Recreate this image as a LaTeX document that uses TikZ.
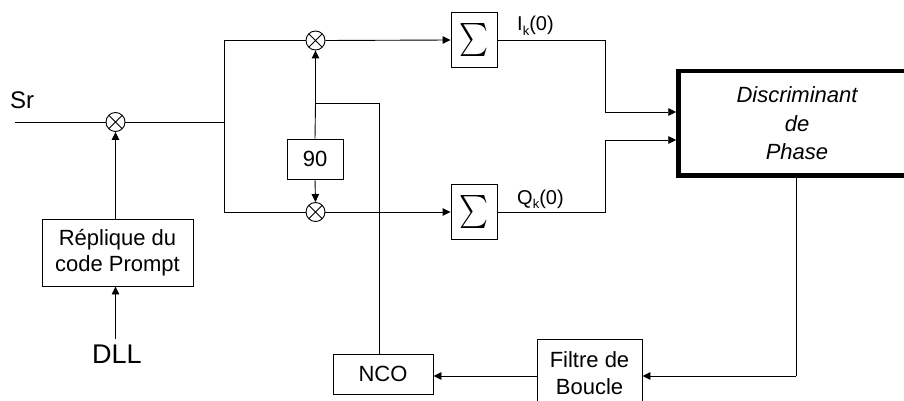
\documentclass[tikz,border=0pt]{standalone}
\usepackage{fontspec}
\usepackage{graphicx}
\setmainfont{Liberation Sans}
\usetikzlibrary{arrows.meta}
\begin{document}
\begin{tikzpicture}[x=1pt,y=-1pt,
  ln/.style={line width=0.9pt},
  arr/.style={ln,-{Triangle[length=8pt,width=7.5pt]}},
  box/.style={draw,line width=0.9pt,inner sep=0pt,align=center},
  mixer/.style={draw,circle,line width=0.9pt,minimum size=19pt,inner sep=0pt,
    path picture={\draw[line width=0.9pt] (path picture bounding box.north west) -- (path picture bounding box.south east)
      (path picture bounding box.south west) -- (path picture bounding box.north east);}},
  txt/.style={inner sep=0pt},
  f22/.style={font=\fontsize{22}{26}\selectfont}
]
\useasboundingbox (0,0) rectangle (904,401);

% nodes
\node[txt,anchor=base west,font=\fontsize{24}{24}\selectfont] (sr) at (10,109) {Sr};
\coordinate (srin) at (15,122);
\node[mixer] (m1) at (115.5,122) {};
\node[box,f22,minimum width=151pt,minimum height=67pt] (repl) at (117.5,252.5) {Réplique du\\code Prompt};
\node[txt,anchor=base,font=\fontsize{27}{27}\selectfont] (dll) at (117,363) {DLL};
\coordinate (dlltop) at (115.5,339);

\coordinate (sp) at (224,122);
\coordinate (spt) at (224,40.5);
\coordinate (spb) at (224,212);
\node[mixer] (m2) at (315.5,40.5) {};
\node[mixer] (m3) at (315.5,212) {};
\node[box,f22,minimum width=56pt,minimum height=40pt] (ninety) at (315,159) {90};
\coordinate (c1) at (379,103);
\coordinate (c2) at (315.5,103);

\node[box,minimum width=46pt,minimum height=55pt] (sum1) at (474,40) {\resizebox*{29pt}{33pt}{$\sum$}};
\node[box,minimum width=46pt,minimum height=55pt] (sum2) at (474,212) {\resizebox*{29pt}{33pt}{$\sum$}};
\node[txt,anchor=base west,font=\fontsize{20}{20}\selectfont] (ik) at (517,31) {I\raisebox{-4.5pt}{\fontsize{13}{13}\selectfont k}(0)};
\node[txt,anchor=base west,font=\fontsize{20}{20}\selectfont] (qk) at (517,204) {Q\raisebox{-4.5pt}{\fontsize{13}{13}\selectfont k}(0)};
\coordinate (i1) at (605,112);
\coordinate (q1) at (605,140);

\node[draw,line width=4.5pt,inner sep=0pt,minimum width=237pt,minimum height=104.5pt,align=center,
  font=\fontsize{22}{28.5}\selectfont\itshape] (disc) at (797,123.3) {Discriminant\\de\\Phase};
\coordinate (d1) at (796,376);

\node[box,minimum width=105pt,minimum height=80pt,anchor=north] (filt) at (589.5,339) {};
\node[txt,align=center,font=\fontsize{22}{27}\selectfont] (filttxt) at (589.5,372.7) {Filtre de\\Boucle};
\node[box,f22,minimum width=100pt,minimum height=40pt] (nco) at (383,374) {NCO};

% connectors
\draw[ln] (srin) -- (m1.west);
\draw[arr] (repl.north -| m1) -- (m1.south);
\draw[arr] (dlltop) -- (dlltop |- repl.south);
\draw[ln] (m1.east) -- (sp);
\draw[ln] (spt) -- (spb);
\draw[ln] (spt) -- (m2.west);
\draw[ln] (spb) -- (m3.west);
\draw[arr] (m2.east) -- (sum1.west);
\draw[arr] (m3.east) -- (sum2.west);
\draw[ln] (nco.north -| c1) -- (c1) -- (c2);
\draw[arr] (c2) -- (m2.south);
\draw[ln] (c2) -- (ninety.north);
\draw[arr] (ninety.south) -- (m3.north);
\draw[ln] (sum1.east) -| (i1);
\draw[arr] (i1) -- (i1 -| disc.west);
\draw[ln] (sum2.east) -| (q1);
\draw[arr] (q1) -- (q1 -| disc.west);
\draw[ln] (disc.south -| d1) -- (d1);
\draw[arr] (d1) -- (d1 -| filt.east);
\draw[arr] (filt.west |- d1) -- (nco.east |- d1);
\end{tikzpicture}
\end{document}
